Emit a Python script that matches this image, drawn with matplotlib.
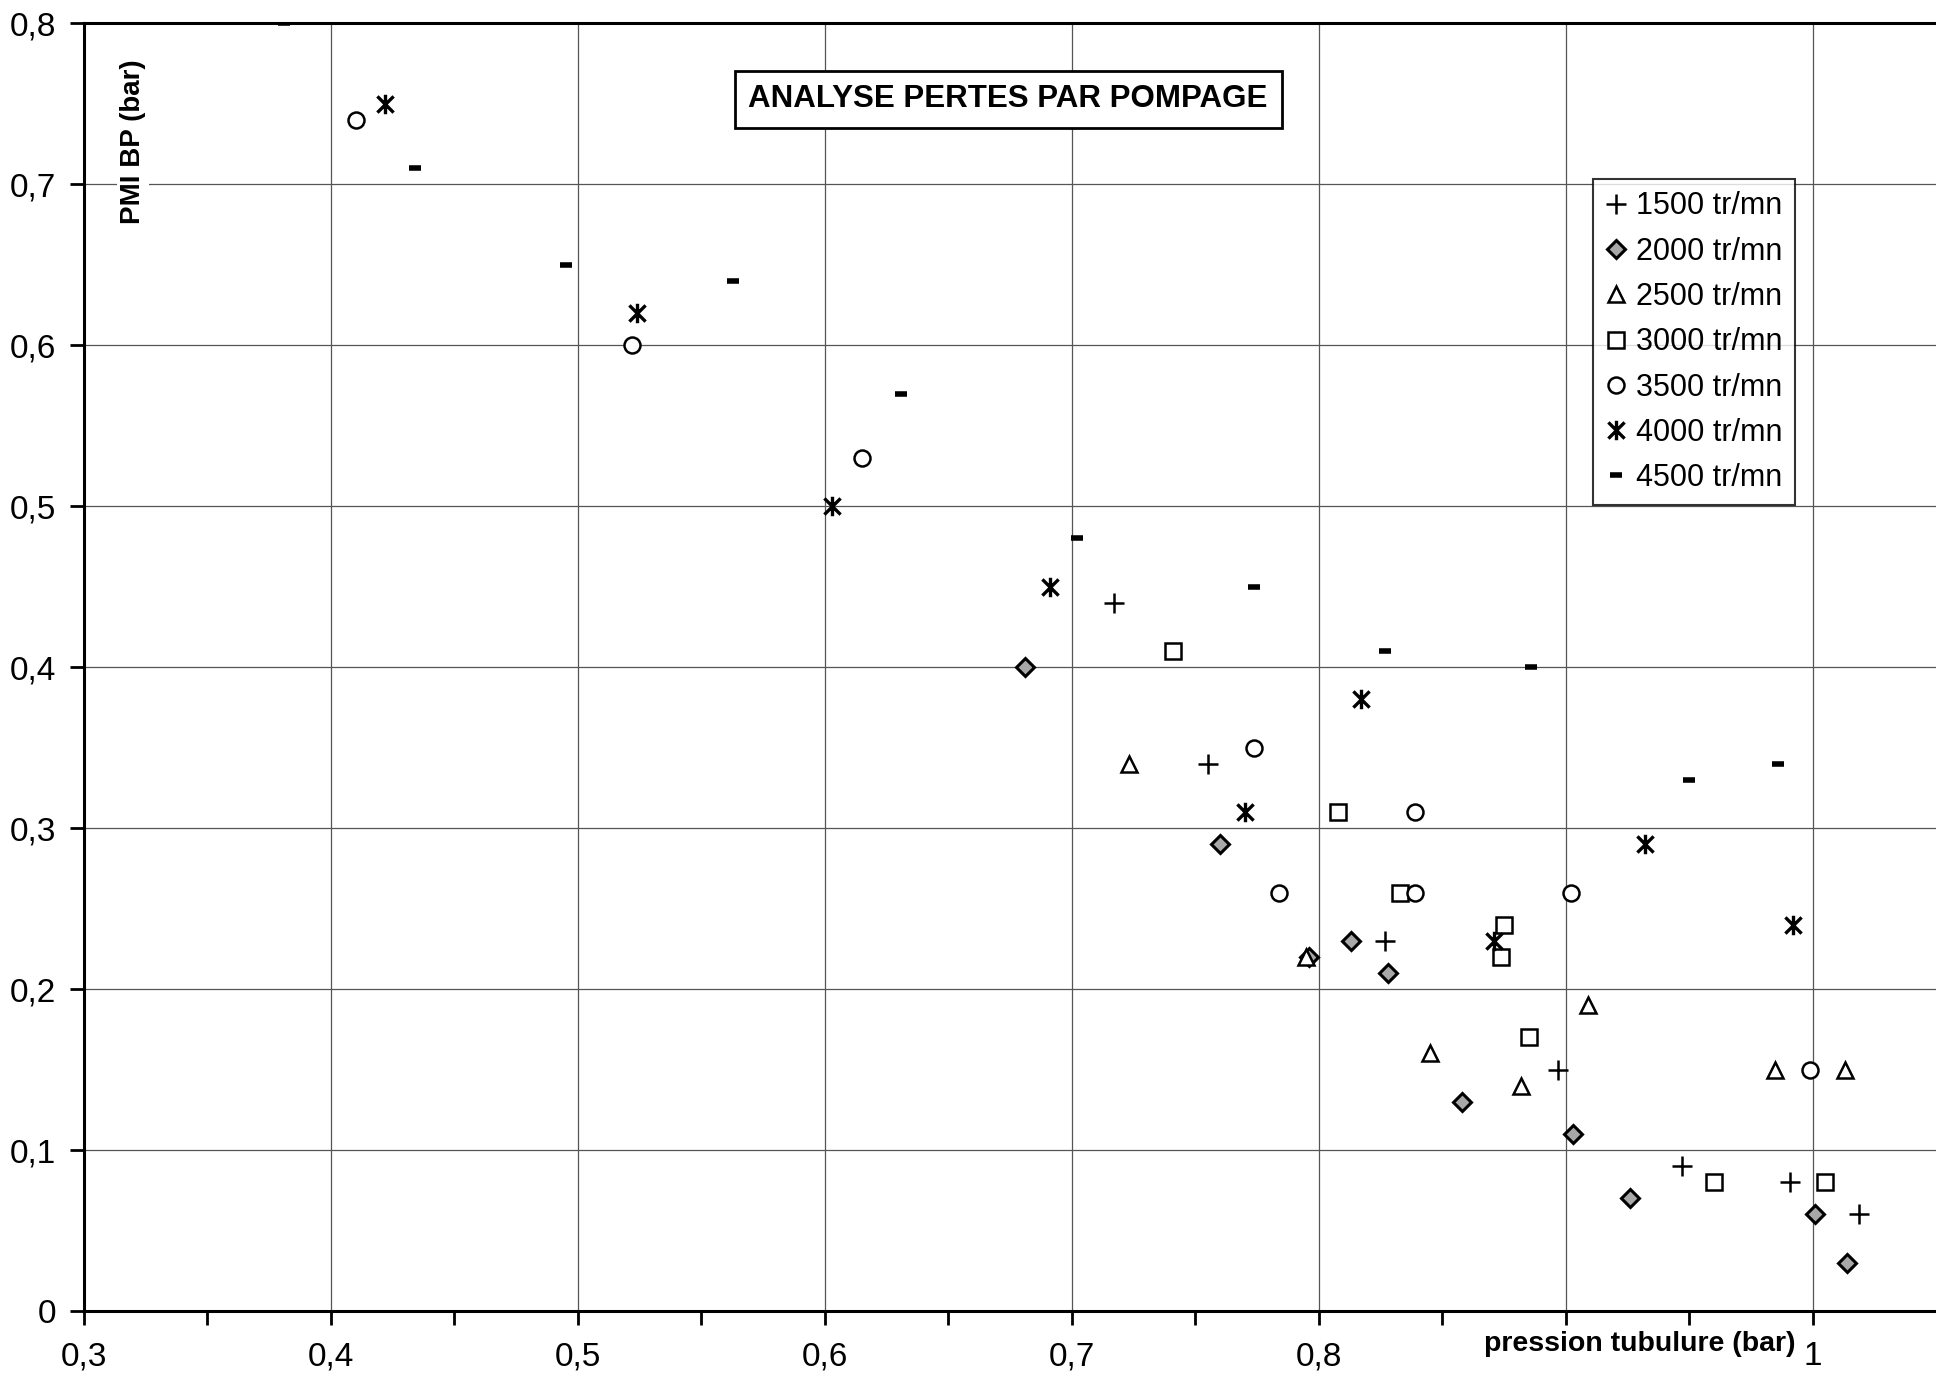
import matplotlib
matplotlib.use("Agg")
from matplotlib import pyplot as plt
from matplotlib.path import Path

plt.rcParams["font.family"] = ["Liberation Sans", "DejaVu Sans"]

# data (x = pression tubulure, y = PMI BP), bar
x_1500 = [0.717, 0.755, 0.827, 0.897, 0.947, 0.991, 1.019]
y_1500 = [0.44, 0.34, 0.23, 0.15, 0.09, 0.08, 0.06]

x_2000 = [0.681, 0.760, 0.796, 0.813, 0.828, 0.858, 0.903, 0.926, 1.001, 1.014]
y_2000 = [0.40, 0.29, 0.22, 0.23, 0.21, 0.13, 0.11, 0.07, 0.06, 0.03]

x_2500 = [0.723, 0.795, 0.845, 0.882, 0.909, 0.985, 1.013]
y_2500 = [0.34, 0.22, 0.16, 0.14, 0.19, 0.15, 0.15]

x_3000 = [0.741, 0.808, 0.833, 0.875, 0.874, 0.885, 0.960, 1.005]
y_3000 = [0.41, 0.31, 0.26, 0.24, 0.22, 0.17, 0.08, 0.08]

x_3500 = [0.410, 0.522, 0.615, 0.774, 0.784, 0.839, 0.839, 0.902, 0.999]
y_3500 = [0.74, 0.60, 0.53, 0.35, 0.26, 0.31, 0.26, 0.26, 0.15]

x_4000 = [0.422, 0.524, 0.603, 0.691, 0.817, 0.770, 0.871, 0.932, 0.992]
y_4000 = [0.75, 0.62, 0.50, 0.45, 0.38, 0.31, 0.23, 0.29, 0.24]

x_4500 = [0.381, 0.434, 0.495, 0.563, 0.631, 0.702, 0.774, 0.827, 0.886, 0.950, 0.986]
y_4500 = [0.80, 0.71, 0.65, 0.64, 0.57, 0.48, 0.45, 0.41, 0.40, 0.33, 0.34]

series_labels = ["1500 tr/mn", "2000 tr/mn", "2500 tr/mn", "3000 tr/mn",
                 "3500 tr/mn", "4000 tr/mn", "4500 tr/mn"]

x_ticks = [0.3, 0.4, 0.5, 0.6, 0.7, 0.8, 0.9, 1.0]
x_tick_labels = ["0,3", "0,4", "0,5", "0,6", "0,7", "0,8", "", "1"]
y_ticks = [0, 0.1, 0.2, 0.3, 0.4, 0.5, 0.6, 0.7, 0.8]
y_tick_labels = ["0", "0,1", "0,2", "0,3", "0,4", "0,5", "0,6", "0,7", "0,8"]

# excel style asterisk: an X crossed by a vertical bar
asterisk = Path([(-0.5, -0.5), (0.5, 0.5), (-0.5, 0.5), (0.5, -0.5), (0, -0.6), (0, 0.6)],
                [Path.MOVETO, Path.LINETO, Path.MOVETO, Path.LINETO, Path.MOVETO, Path.LINETO])

fig = plt.figure(figsize=(19.36, 13.73), dpi=100)
ax = fig.add_axes([0.0434, 0.0452, 0.9566, 0.9377])

ax.plot(x_1500, y_1500, ls="none", marker="+", ms=15, mew=1.8, color="black",
        label=series_labels[0])
ax.plot(x_2000, y_2000, ls="none", marker="D", ms=9, mew=2.2, mec="black",
        mfc="#a8a8a8", label=series_labels[1])
ax.plot(x_2500, y_2500, ls="none", marker="^", ms=11, mew=1.8, mec="black",
        mfc="white", label=series_labels[2])
ax.plot(x_3000, y_3000, ls="none", marker="s", ms=11, mew=1.8, mec="black",
        mfc="white", label=series_labels[3])
ax.plot(x_3500, y_3500, ls="none", marker="o", ms=11.5, mew=1.8, mec="black",
        mfc="white", label=series_labels[4])
ax.plot(x_4000, y_4000, ls="none", marker=asterisk, ms=14, mew=2.4, color="black",
        label=series_labels[5])
ax.plot(x_4500, y_4500, ls="none", marker="_", ms=9, mew=4, color="black",
        label=series_labels[6])

ax.set_xlim(0.3, 1.05)
ax.set_ylim(0, 0.8)
ax.set_xticks(x_ticks)
ax.set_xticklabels(x_tick_labels)
ax.set_xticks([0.35, 0.45, 0.55, 0.65, 0.75, 0.85, 0.95], minor=True)
ax.set_yticks(y_ticks)
ax.set_yticklabels(y_tick_labels)
ax.tick_params(axis="both", which="major", labelsize=24, length=10, width=2,
               direction="out")
ax.tick_params(axis="x", which="major", pad=12)
ax.tick_params(axis="y", which="major", pad=10)
ax.tick_params(axis="x", which="minor", length=10, width=2, direction="out")

ax.grid(True, which="major", color="#555555", lw=0.9)
ax.set_axisbelow(True)

ax.spines["right"].set_visible(False)
ax.spines["left"].set_linewidth(2.2)
ax.spines["bottom"].set_linewidth(2.2)
ax.spines["top"].set_linewidth(2.2)

ax.text(0.0265, 0.908, "PMI BP (bar)", transform=ax.transAxes, rotation=90,
        fontsize=20, fontweight="bold", ha="center", va="center",
        bbox=dict(facecolor="white", edgecolor="none", pad=2))
ax.text(0.84, -0.026, "pression tubulure (bar)", transform=ax.transAxes,
        fontsize=20.5, fontweight="bold", ha="center", va="center")

ax.text(0.499, 0.941, "ANALYSE PERTES PAR POMPAGE", transform=ax.transAxes,
        fontsize=22.5, fontweight="bold", ha="center", va="center",
        bbox=dict(facecolor="white", edgecolor="black", linewidth=2, pad=10))

leg = ax.legend(loc="upper left", bbox_to_anchor=(0.815, 0.879), fontsize=22,
                frameon=True, fancybox=False, edgecolor="black",
                handlelength=0.7, handletextpad=0.3, borderpad=0.4,
                labelspacing=0.5, numpoints=1, borderaxespad=0)
leg.get_frame().set_linewidth(1.5)

fig.savefig("out.png", dpi=100)
